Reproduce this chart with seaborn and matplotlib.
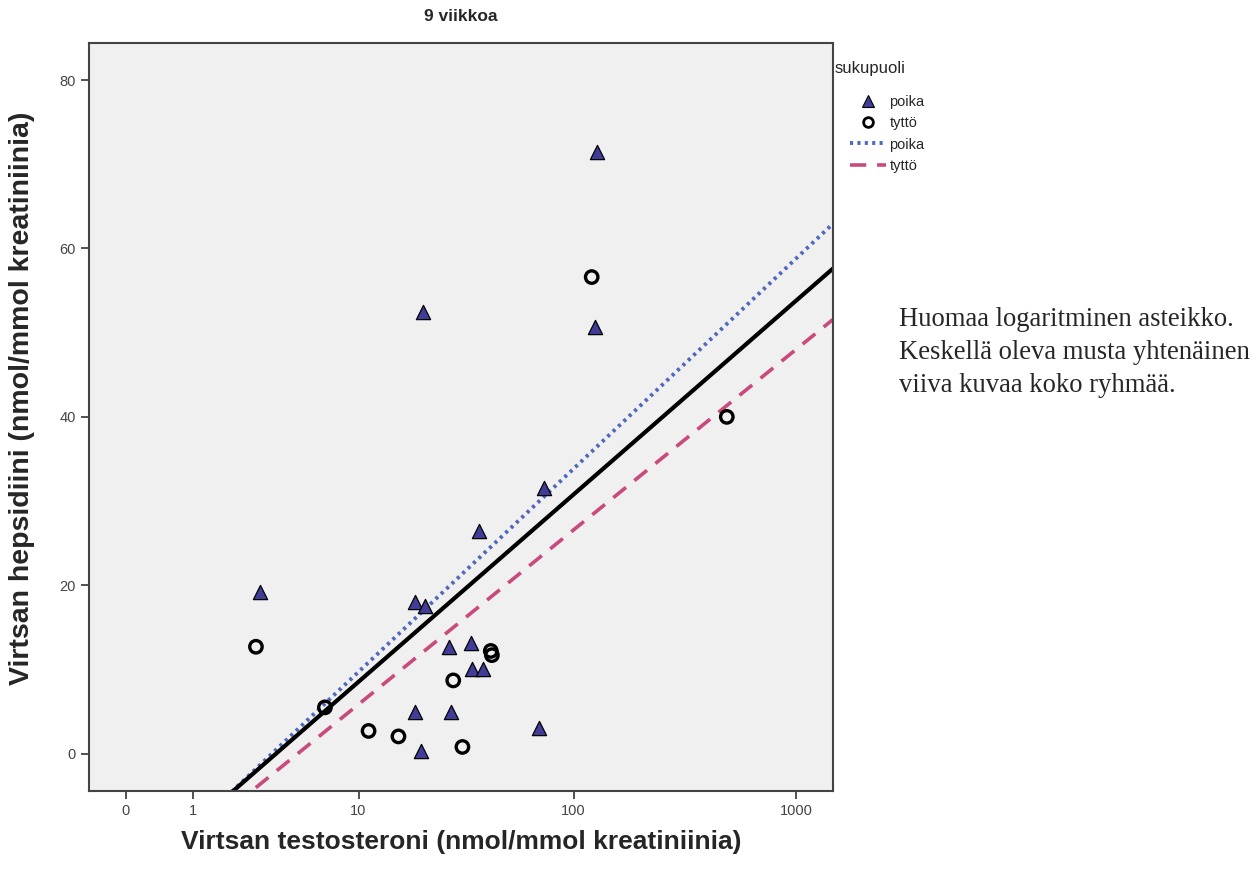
import numpy as np
import pandas as pd
import matplotlib
matplotlib.use("Agg")
import matplotlib.pyplot as plt
import seaborn as sns
from matplotlib.lines import Line2D

# Values (x = testosterone, y = hepcidin)
poika_testo = [2.98, 18.7, 20.8, 27.0, 34.0, 34.3, 38.8, 18.7, 27.5, 19.9,
               70.0, 127.0, 20.3, 124.9, 73.5, 37.2]
poika_heps = [19.2, 18.0, 17.5, 12.7, 13.1, 10.1, 10.1, 4.9, 4.9, 0.3,
              3.1, 71.4, 52.4, 50.7, 31.5, 26.5]
tytto_testo = [2.82, 6.78, 42.0, 42.5, 28.2, 11.2, 15.6, 31.1, 120.7, 489.0]
tytto_heps = [12.7, 5.5, 12.2, 11.7, 8.7, 2.7, 2.05, 0.8, 56.6, 40.0]

x_ticks = [0, 1, 10, 100, 1000]
y_ticks = [0, 20, 40, 60, 80]

boys = pd.DataFrame({"testo": poika_testo, "heps": poika_heps, "sukupuoli": "poika"})
girls = pd.DataFrame({"testo": tytto_testo, "heps": tytto_heps, "sukupuoli": "tyttö"})
df = pd.concat([boys, girls], ignore_index=True)
# log scale with +1 shift (so that 0 can be shown)
df["u"] = np.log10(df["testo"] + 1)

sns.set_style("white")
plt.rcParams["font.family"] = ["Liberation Sans", "DejaVu Sans"]

fig = plt.figure(figsize=(12.56, 8.72), dpi=100)
ax = fig.add_axes([0.0711, 0.0932, 0.592, 0.8575])
ax.set_facecolor("#F0F0F0")

ax.set_xlim(-0.164, 3.165)
ax.set_ylim(-4.4, 84.4)

blue_line = "#5068BC"
pink_line = "#C94A7C"
tri_fill = "#403C98"
dot_ls = (0, (0.8, 1.1))
dash_ls = (0, (4.5, 3))

# fit lines (linear in log10(x+1))
sns.regplot(data=df[df.sukupuoli == "poika"], x="u", y="heps", scatter=False, ci=None,
            truncate=False, ax=ax,
            line_kws=dict(color=blue_line, lw=2.8, ls=dot_ls))
sns.regplot(data=df[df.sukupuoli == "tyttö"], x="u", y="heps", scatter=False, ci=None,
            truncate=False, ax=ax,
            line_kws=dict(color=pink_line, lw=2.6, ls=dash_ls))
sns.regplot(data=df, x="u", y="heps", scatter=False, ci=None, truncate=False, ax=ax,
            line_kws=dict(color="black", lw=3.0))

sns.scatterplot(data=df[df.sukupuoli == "poika"], x="u", y="heps", marker="^", s=105,
                color=tri_fill, edgecolor="black", linewidth=0.9, ax=ax, zorder=4)
sns.scatterplot(data=df[df.sukupuoli == "tyttö"], x="u", y="heps", marker="o", s=80,
                facecolors="none", edgecolor="black", linewidth=2.4, ax=ax, zorder=4)

ax.set_xlim(-0.164, 3.165)
ax.set_ylim(-4.4, 84.4)
ax.set_xticks(np.log10(np.array(x_ticks) + 1))
ax.set_xticklabels([str(t) for t in x_ticks])
ax.set_yticks(y_ticks)
ax.tick_params(axis="both", direction="out", length=6, width=1.2, color="#333333",
               labelsize=10.5, labelcolor="#444444", bottom=True, left=True)
for sp in ax.spines.values():
    sp.set_color("#444444")
    sp.set_linewidth(1.5)

ax.set_title("9 viikkoa", fontsize=12.5, fontweight="bold", pad=16)
ax.set_xlabel("Virtsan testosteroni (nmol/mmol kreatiniinia)", fontsize=19,
              fontweight="bold", labelpad=9)
ax.set_ylabel("Virtsan hepsidiini (nmol/mmol kreatiniinia)", fontsize=20.5,
              fontweight="bold")
ax.yaxis.set_label_coords(-0.073, 0.525)

fig.text(835 / 1256, 1 - 68 / 872, "sukupuoli", fontsize=12, va="center", ha="left")

handles = [
    Line2D([], [], marker="^", ls="none", markersize=8, markerfacecolor=tri_fill,
           markeredgecolor="black", markeredgewidth=0.8),
    Line2D([], [], marker="o", ls="none", markersize=7, markerfacecolor="none",
           markeredgecolor="black", markeredgewidth=2),
    Line2D([], [], color=blue_line, lw=2.8, ls=dot_ls),
    Line2D([], [], color=pink_line, lw=2.6, ls=dash_ls),
]
leg = fig.legend(handles, ["poika", "tyttö", "poika", "tyttö"],
                 loc="upper left", bbox_to_anchor=(850 / 1256, 1 - 95 / 872), frameon=False,
                 fontsize=10.5, handlelength=2.5, handletextpad=0.2, labelspacing=0.5,
                 borderaxespad=0, borderpad=0)

fig.text(0.716, 0.648, "Huomaa logaritminen asteikko.\nKeskellä oleva musta yhtenäinen\n"
         "viiva kuvaa koko ryhmää.", fontsize=19.2, family="Liberation Serif",
         va="top", ha="left", linespacing=1.42)

fig.savefig("out.png", dpi=100)
